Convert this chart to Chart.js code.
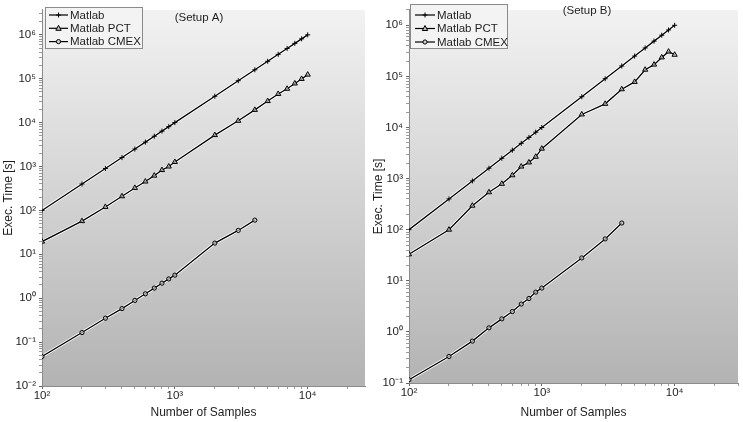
<!DOCTYPE html>
<html lang="en">
<head>
	<meta charset="UTF-8">
	<script src="https://cdn.jsdelivr.net/npm/chart.js@4.4.0/dist/chart.umd.min.js"></script>
	<title>Exec. Time vs Number of Samples</title>
	<style>
		body { margin: 0; background: #fff; }
		#wrap { position: relative; width: 743px; height: 422px; }
		#cA { position: absolute; left: 0; top: 0; }
		#cB { position: absolute; left: 370px; top: 0; }
	</style>
</head>
<body>
	<div id="wrap">
		<canvas id="cA" width="370" height="422"></canvas>
		<canvas id="cB" width="373" height="422"></canvas>
	</div>
	<script>
		// values
		var samples = [100, 200, 300, 400, 500, 600, 700, 800, 900, 1000, 2000, 3000, 4000, 5000, 6000, 7000, 8000, 9000, 10000];

		// Setup A
		var matlabA = [100, 400, 900, 1600, 2500, 3600, 4900, 6400, 8100, 10000, 40000, 90000, 160000, 250000, 360000, 490000, 640000, 810000, 1000000];
		var pctA = [19.5, 57, 120, 210, 325, 455, 620, 830, 1000, 1270, 5200, 11000, 19500, 31000, 45000, 59000, 78000, 99000, 124000];
		var cmexA = [0.047, 0.165, 0.35, 0.58, 0.89, 1.26, 1.7, 2.2, 2.75, 3.35, 18, 35, 60];

		// Setup B
		var matlabB = [100, 400, 900, 1600, 2500, 3600, 4900, 6400, 8100, 10000, 40000, 90000, 160000, 250000, 360000, 490000, 640000, 810000, 1000000];
		var pctB = [33, 100, 295, 540, 790, 1160, 1720, 2070, 2670, 3850, 18000, 29000, 56000, 78000, 135000, 170000, 235000, 305000, 265000];
		var cmexB = [0.116, 0.33, 0.66, 1.2, 1.8, 2.5, 3.5, 4.5, 6.0, 7.2, 28, 66, 135];

		var seriesNames = ['Matlab', 'Matlab PCT', 'Matlab CMEX'];

		// tick labels
		var xMajors = [100, 1000, 10000];
		var xLabels = ['10\u00B2', '10\u00B3', '10\u2074'];
		var yMajorsA = [0.01, 0.1, 1, 10, 100, 1000, 10000, 100000, 1000000];
		var yLabelsA = ['10\u207B\u00B2', '10\u207B\u00B9', '10\u2070', '10\u00B9', '10\u00B2', '10\u00B3', '10\u2074', '10\u2075', '10\u2076'];
		var yMajorsB = [0.1, 1, 10, 100, 1000, 10000, 100000, 1000000];
		var yLabelsB = ['10\u207B\u00B9', '10\u2070', '10\u00B9', '10\u00B2', '10\u00B3', '10\u2074', '10\u2075', '10\u2076'];

		Chart.defaults.font.family = '"Liberation Sans", Arial, sans-serif';
		Chart.defaults.font.size = 11.5;
		Chart.defaults.color = '#1e1e1e';

		function pts(ys) {
			var out = [];
			for (var i = 0; i < ys.length; i++) out.push({x: samples[i], y: ys[i]});
			return out;
		}

		function logTicks(min, max) {
			var t = [];
			for (var e = Math.floor(Math.log10(min)); e <= Math.ceil(Math.log10(max)); e++) {
				for (var k = 1; k < 10; k++) {
					var v = k * Math.pow(10, e);
					if (v >= min * 0.999 && v <= max * 1.001) t.push({value: v, major: k === 1});
				}
			}
			return t;
		}

		function labelFor(majors, labels) {
			return function (value) {
				for (var i = 0; i < majors.length; i++) {
					if (Math.abs(Math.log10(value) - Math.log10(majors[i])) < 1e-6) return labels[i];
				}
				return '';
			};
		}

		function tickCol(ctx) {
			if (!ctx.tick) return '#888';
			var l = Math.log10(ctx.tick.value);
			return Math.abs(l - Math.round(l)) < 1e-6 ? '#666' : '#9a9a9a';
		}

		var styles = [
			{pointStyle: 'cross', pointRadius: 2.5, pointBackgroundColor: '#000'},
			{pointStyle: 'triangle', pointRadius: 3, pointBackgroundColor: 'rgba(190,190,190,0.7)'},
			{pointStyle: 'circle', pointRadius: 2.1, pointBackgroundColor: 'rgba(200,200,200,0.7)'}
		];

		function makeDatasets(list) {
			var ds = [];
			for (var i = 0; i < list.length; i++) {
				// white edge under each line
				ds.push({
					data: pts(list[i]), borderColor: '#ffffff', borderWidth: 3,
					pointRadius: 0, order: 2
				});
				ds.push({
					label: seriesNames[i], data: pts(list[i]), borderColor: '#000', borderWidth: 1.3,
					pointStyle: styles[i].pointStyle, pointRadius: styles[i].pointRadius,
					pointBorderColor: '#000', pointBorderWidth: 1,
					pointBackgroundColor: styles[i].pointBackgroundColor, order: 1
				});
			}
			return ds;
		}

		function drawMarker(ctx, style, x, y) {
			ctx.save();
			ctx.strokeStyle = '#000';
			ctx.lineWidth = 1;
			ctx.beginPath();
			if (style === 'cross') {
				ctx.moveTo(x - 2.5, y); ctx.lineTo(x + 2.5, y);
				ctx.moveTo(x, y - 2.5); ctx.lineTo(x, y + 2.5);
				ctx.stroke();
			} else if (style === 'triangle') {
				ctx.fillStyle = '#bbb';
				ctx.moveTo(x, y - 3); ctx.lineTo(x + 2.7, y + 2); ctx.lineTo(x - 2.7, y + 2);
				ctx.closePath(); ctx.fill(); ctx.stroke();
			} else {
				ctx.fillStyle = '#ccc';
				ctx.arc(x, y, 2.1, 0, Math.PI * 2);
				ctx.fill(); ctx.stroke();
			}
			ctx.restore();
		}

		var panelPlugin = {
			id: 'panel',
			beforeDraw: function (chart, args, o) {
				var a = chart.chartArea, ctx = chart.ctx;
				var g = ctx.createLinearGradient(0, a.top, 0, a.bottom);
				g.addColorStop(0, '#f2f2f2');
				g.addColorStop(1, '#b3b3b3');
				ctx.save();
				ctx.fillStyle = g;
				ctx.fillRect(a.left, a.top, a.right - a.left, a.bottom - a.top);
				ctx.restore();
			},
			afterDraw: function (chart, args, o) {
				var ctx = chart.ctx;
				ctx.save();
				// legend box
				ctx.fillStyle = '#f3f3f3';
				ctx.fillRect(o.lx, o.ly, o.lw, o.lh);
				ctx.strokeStyle = '#8a8a8a';
				ctx.lineWidth = 1;
				ctx.strokeRect(o.lx + 0.5, o.ly + 0.5, o.lw, o.lh);
				ctx.font = '11.5px "Liberation Sans", Arial, sans-serif';
				ctx.textBaseline = 'middle';
				ctx.fillStyle = '#1e1e1e';
				var row = 0;
				chart.data.datasets.forEach(function (d) {
					if (!d.label) return;
					var y = o.ly + o.row0 + row * o.gap;
					ctx.strokeStyle = '#000';
					ctx.lineWidth = 1.2;
					ctx.beginPath();
					ctx.moveTo(o.lx + o.line0, y);
					ctx.lineTo(o.lx + o.line1, y);
					ctx.stroke();
					drawMarker(ctx, d.pointStyle, o.lx + (o.line0 + o.line1) / 2, y);
					ctx.fillStyle = '#1e1e1e';
					ctx.textAlign = 'left';
					ctx.fillText(d.label, o.lx + o.text0, y + 0.5);
					row++;
				});
				// setup caption
				ctx.textAlign = 'center';
				ctx.fillText(o.caption, o.cx, o.cy);
				ctx.restore();
			}
		};

		function makeChart(id, data, yMin, yMax, xMax, yMajors, yLabels, yW, xH, pad, panel) {
			return new Chart(document.getElementById(id), {
				type: 'line',
				data: {datasets: makeDatasets(data)},
				plugins: [panelPlugin],
				options: {
					responsive: false,
					animation: false,
					events: [],
					layout: {padding: pad},
					plugins: {
						legend: {display: false},
						tooltip: {enabled: false},
						panel: panel
					},
					scales: {
						x: {
							type: 'logarithmic', min: 100, max: xMax, bounds: 'data',
							afterBuildTicks: function (s) { s.ticks = logTicks(100, xMax); },
							afterFit: function (s) { s.height = xH; },
							ticks: {autoSkip: false, maxRotation: 0, minRotation: 0, padding: 0,
								callback: labelFor(xMajors, xLabels)},
							grid: {drawOnChartArea: false, drawTicks: true, tickLength: 3, tickColor: tickCol},
							border: {display: true, color: '#8c8c8c', width: 1},
							title: {display: true, text: 'Number of Samples', font: {size: 12},
								padding: {top: 0, bottom: 2}}
						},
						y: {
							type: 'logarithmic', min: yMin, max: yMax, bounds: 'data',
							afterBuildTicks: function (s) { s.ticks = logTicks(yMin, yMax); },
							afterFit: function (s) { s.width = yW; },
							ticks: {autoSkip: false, padding: 3, callback: labelFor(yMajors, yLabels)},
							grid: {drawOnChartArea: false, drawTicks: true, tickLength: 3, tickColor: tickCol},
							border: {display: true, color: '#8c8c8c', width: 1},
							title: {display: true, text: 'Exec. Time [s]', font: {size: 12},
								padding: {top: 1, bottom: 0}}
						}
					}
				}
			});
		}

		makeChart('cA', [matlabA, pctA, cmexA], 0.01, 3700000, 27000, yMajorsA, yLabelsA, 42, 36,
			{left: 0, right: 4, top: 4, bottom: 0},
			{lx: 45, ly: 7, lw: 97, lh: 41, row0: 8, gap: 13.3, line0: 4, line1: 23, text0: 25,
				caption: '(Setup A)', cx: 199, cy: 18});

		makeChart('cB', [matlabB, pctB, cmexB], 0.1, 2000000, 30000, yMajorsB, yLabelsB, 39, 39,
			{left: 0, right: 4, top: 4, bottom: 0},
			{lx: 40, ly: 4, lw: 97, lh: 44, row0: 11, gap: 13.5, line0: 5, line1: 25, text0: 27,
				caption: '(Setup B)', cx: 217, cy: 11});
	</script>
</body>
</html>
